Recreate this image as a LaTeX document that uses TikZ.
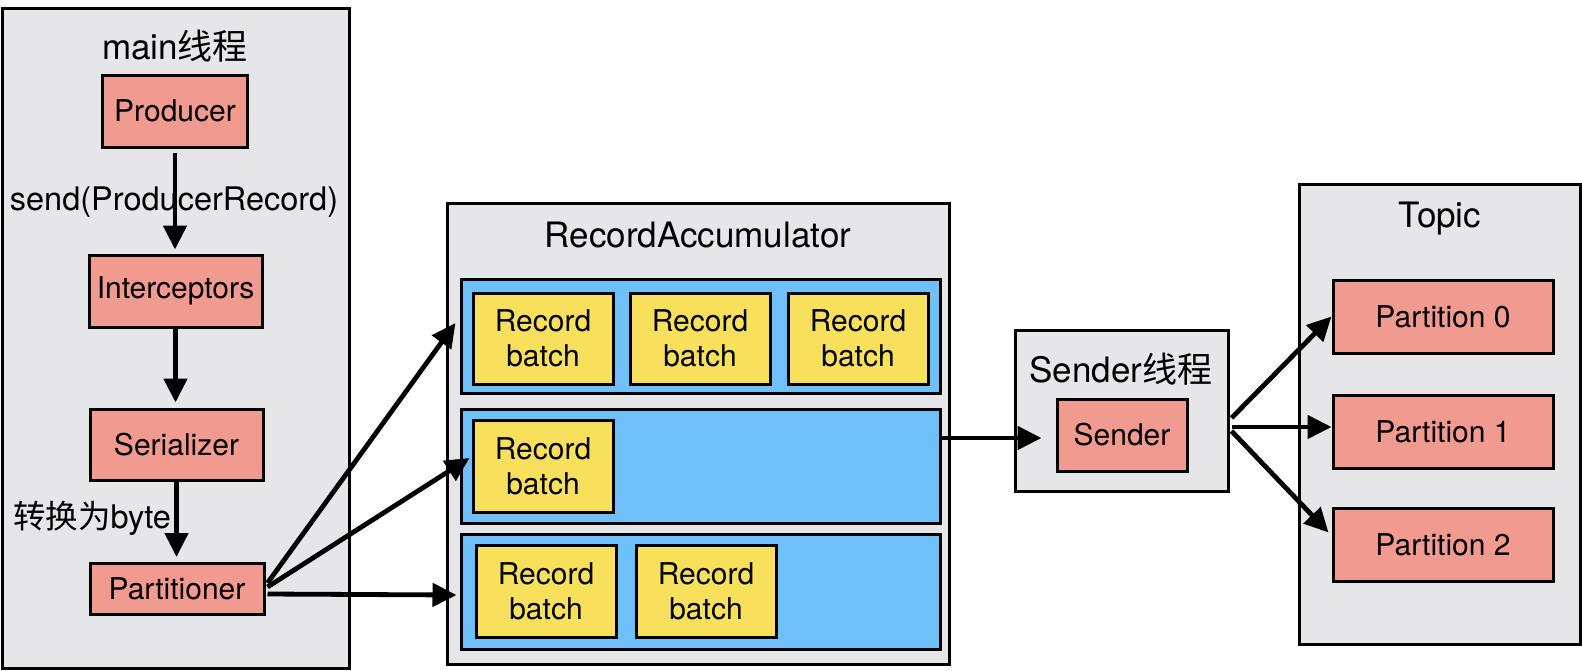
\documentclass[tikz,border=0pt]{standalone}
\usepackage{fontspec}
\setmainfont{TeX Gyre Heros}
\newfontfamily\cjk{Noto Sans CJK SC}
\usetikzlibrary{arrows.meta,calc}
\definecolor{bggray}{HTML}{E6E6E8}
\definecolor{pinkc}{HTML}{F19B90}
\definecolor{bluec}{HTML}{6FBFF8}
\definecolor{yellowc}{HTML}{F7E05C}
\newcommand\myNodeFont{\fontsize{30}{35}\selectfont}
\newcommand\myTitleFont{\fontsize{35}{40}\selectfont}
\newcommand\myLabelFont{\fontsize{32.5}{38}\selectfont}
\begin{document}
\begin{tikzpicture}[x=1pt,y=-1pt,
  box/.style={draw, line width=3pt, inner sep=0pt, font=\myNodeFont, align=center},
  container/.style={box, fill=bggray},
  pinkbox/.style={box, fill=pinkc},
  bluebox/.style={box, fill=bluec, minimum width=479pt, minimum height=114pt},
  batch/.style={box, fill=yellowc, minimum width=140pt, minimum height=91pt},
  part/.style={pinkbox, minimum width=220pt, minimum height=73pt},
  title/.style={font=\myTitleFont, anchor=base, inner sep=0pt},
  lbl/.style={font=\myLabelFont, anchor=base, inner sep=0pt},
  arr/.style={line width=4.8pt, -{Triangle[length=24pt,width=23pt]}}
]
\useasboundingbox (0,0) rectangle (1582,670);

% containers
\node[container, minimum width=347pt, minimum height=660pt] (mainbox) at (175.5,338) {};
\node[container, minimum width=502pt, minimum height=461pt] (acc) at (698,433.5) {};
\node[container, minimum width=213pt, minimum height=161pt] (sbox) at (1121.5,411) {};
\node[container, minimum width=281pt, minimum height=460pt] (topic) at (1439.5,414) {};

% titles
\node[title] (tmain) at (175,59) {main{\cjk 线程}};
\node[title] (tacc) at (698,247) {RecordAccumulator};
\node[title] (tsnd) at (1121,382) {Sender{\cjk 线程}};
\node[title] (ttopic) at (1440,227) {Topic};

% main thread
\node[pinkbox, minimum width=145pt, minimum height=72pt] (prod) at (175,111) {Producer};
\node[pinkbox, minimum width=173pt, minimum height=72pt] (inter) at (175.5,291) {Interceptors};
\node[pinkbox, minimum width=173pt, minimum height=71pt] (ser) at (176.5,444.5) {Serializer};
\node[pinkbox, minimum width=174pt, minimum height=51pt] (parti) at (177,589) {Partitioner};

\node[lbl] (lsend) at (174,210) {send(ProducerRecord)};
\node[lbl] (lbyte) at (92,528) {{\cjk 转换为}byte};

% accumulator rows
\node[bluebox] (row1) at (700.5,336) {};
\node[bluebox] (row2) at (700.5,466) {};
\node[bluebox, minimum height=115pt] (row3) at (700.5,591.5) {};

\node[batch] (b11) at (543,338.5) {Record\\batch};
\node[batch] (b12) at (700,338.5) {Record\\batch};
\node[batch] (b13) at (858,338.5) {Record\\batch};
\node[batch, minimum height=92pt] (b21) at (543,466) {Record\\batch};
\node[batch, minimum height=92pt] (b31) at (546,591) {Record\\batch};
\node[batch, minimum height=92pt] (b32) at (706,591) {Record\\batch};

% sender
\node[pinkbox, minimum width=130pt, minimum height=72pt] (snd) at (1122,435) {Sender};

% partitions
\node[part] (p0) at (1443,316.5) {Partition 0};
\node[part] (p1) at (1443,431.5) {Partition 1};
\node[part] (p2) at (1443,544.5) {Partition 2};

% arrows in main thread
\draw[arr] ([yshift=-4pt]prod.south) -- ([yshift=4pt]prod.south |- inter.north);
\draw[arr] (inter.south) -- ([yshift=5pt]inter.south |- ser.north);
\draw[arr] (ser.south) -- ([yshift=5pt]ser.south |- parti.north);

% partitioner to accumulator
\draw[arr] ($(parti.east)+(2,-6)$) -- ($(row1.west)+(-4,-13)$);
\draw[arr] ($(parti.east)+(2,-2)$) -- ($(b21.west)+(-2,-8)$);
\draw[arr] ($(parti.east)+(2,5)$) -- ($(row3.west)+(-3,3.5)$);

% accumulator to sender
\draw[arr] ($(row2.east |- snd.west)+(0,3)$) -- ($(snd.west)+(-14,3)$);

% sender to partitions
\draw[arr] ($(sbox.east)+(2,7)$) -- (p0.west);
\draw[arr] ($(sbox.east)+(2,16)$) -- ($(p1.west)+(0,-4.5)$);
\draw[arr] ($(sbox.east)+(2,20)$) -- ($(p2.west)+(-3,-12)$);
\end{tikzpicture}
\end{document}
